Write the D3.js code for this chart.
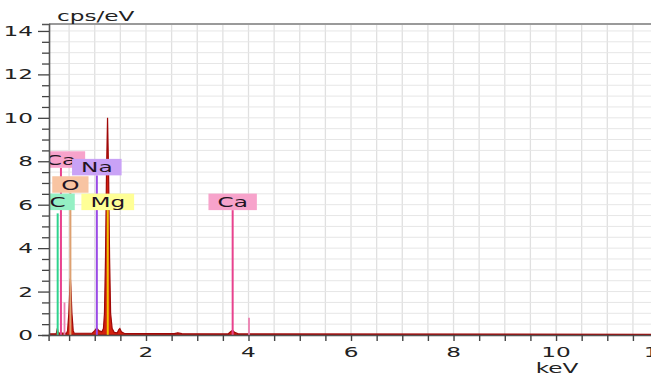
<!DOCTYPE html>
<html><head><meta charset="utf-8">
<script src="https://cdn.jsdelivr.net/npm/d3@7"></script>
<style>body{margin:0;background:#fff}svg{display:block}text{font-family:"DejaVu Sans",sans-serif}</style>
</head><body><svg id="c" width="651" height="378"></svg>
<script>
// ---- data ----
const xTickLabels = [2, 4, 6, 8, 10, 12];
const yTickLabels = [0, 2, 4, 6, 8, 10, 12, 14];
const specEnergy = [0.10,0.25,0.27,0.29,0.45,0.47,0.495,0.515,0.525,0.535,0.555,0.58,0.60,0.95,1.00,1.04,1.08,1.14,1.17,1.19,1.21,1.23,1.25,1.27,1.29,1.31,1.34,1.38,1.44,1.47,1.49,1.52,1.58,2.55,2.62,2.70,3.60,3.65,3.69,3.73,3.80,12.5];
const specCounts = [0.05,0.06,0.3,0.1,0.08,0.2,1.0,2.2,2.6,2.2,1.0,0.2,0.08,0.08,0.2,0.32,0.2,0.15,0.3,1.0,3.5,7.5,10.0,7.5,3.5,1.0,0.3,0.12,0.1,0.25,0.3,0.15,0.07,0.06,0.1,0.06,0.05,0.15,0.22,0.12,0.05,0.03];
const elemNames  = ["C","Ca","O","Na","Mg","Ca"];
const elemEnergy = [0.277,0.341,0.525,1.041,1.254,3.691];
const elemLabelLevel = [5.75,7.7,6.55,7.35,5.75,5.75];
const elemLineTop = [5.6,7.7,6.55,7.35,5.75,5.75];
const elemLineColor = ["#2fd38e","#e8428e","#dda070","#9a4ae6","#f2c200","#e8428e"];
const elemBoxColor  = ["#95f0c4","#f7a3cb","#f8c4a2","#c9a2f6","#ffff96","#f7a3cb"];
const minorEnergy = [0.41, 4.01];
const minorCounts = [1.5, 0.8];

// ---- layout ----
const svg = d3.select("#c");
const L = 49, T = 24, B = 335;
const x = d3.scaleLinear().domain([0.1, 12.2]).range([48.6, 668.8]);
const y = d3.scaleLinear().domain([0, 14.32]).range([B, T]);
const SX = 1.6, FS = 14.5;
const R = 651;

const defs = svg.append("defs");
defs.append("clipPath").attr("id","plot").append("rect").attr("x",L).attr("y",T).attr("width",R-L+20).attr("height",B-T);

// grid
const g = svg.append("g");
g.selectAll(".vg").data(d3.range(0.5, 12.01, 0.5)).join("line")
  .attr("x1",d=>x(d)).attr("x2",d=>x(d)).attr("y1",T).attr("y2",B)
  .attr("stroke","#e0e0e0").attr("stroke-width",1.3);
g.selectAll(".hg").data(d3.range(0.5, 14.01, 0.5)).join("line")
  .attr("x1",L).attr("x2",R).attr("y1",d=>y(d)).attr("y2",d=>y(d))
  .attr("stroke","#e6e6e6").attr("stroke-width",1);
svg.append("line").attr("x1",L).attr("x2",R).attr("y1",T).attr("y2",T).attr("stroke","#9a9a9a").attr("stroke-width",2);

const plot = svg.append("g").attr("clip-path","url(#plot)");

// spectrum
const spec = specEnergy.map((e,i)=>[e,specCounts[i]]);
plot.append("path").datum(spec)
  .attr("d", d3.area().x(d=>x(d[0])).y0(B).y1(d=>y(d[1])))
  .attr("fill","#d2200e").attr("stroke","#a00808").attr("stroke-width",1.2);

// minor lines
plot.selectAll(".ml").data(minorEnergy).join("line")
  .attr("x1",d=>x(d)).attr("x2",d=>x(d)).attr("y1",B).attr("y2",(d,i)=>y(minorCounts[i]))
  .attr("stroke","#ec7fb0").attr("stroke-width",1.8);

// element marker lines
plot.selectAll(".el").data(elemEnergy).join("line")
  .attr("x1",d=>x(d)).attr("x2",d=>x(d)).attr("y1",B).attr("y2",(d,i)=>y(elemLineTop[i]))
  .attr("stroke",(d,i)=>elemLineColor[i]).attr("stroke-width",2);

// labels
const order = [1,3,2,0,4,5];
order.forEach(i=>{
  const cx = x(elemEnergy[i]), yb = y(elemLabelLevel[i]);
  const lg = plot.append("g");
  const r = lg.append("rect");
  const tg = lg.append("g").attr("transform",`translate(${cx},${yb-3}) scale(${SX},1)`);
  const t = tg.append("text").attr("text-anchor","middle").attr("font-size",FS).attr("fill","#231423").text(elemNames[i]);
  const w = t.node().getComputedTextLength()*SX + 18;
  r.attr("x",cx-w/2).attr("y",yb-16.5).attr("width",w).attr("height",16.5).attr("fill",elemBoxColor[i]);
});

// axes
const ax = svg.append("g").attr("transform",`translate(0,${B})`)
  .call(d3.axisBottom(x).tickValues(d3.range(0.5,12.01,0.5)).tickSize(6).tickFormat(""));
ax.select(".domain").attr("stroke","#555").attr("stroke-width",1.6);
ax.selectAll(".tick line").attr("stroke","#444").attr("stroke-width",1.4);
const ay = svg.append("g").attr("transform",`translate(${L},0)`)
  .call(d3.axisLeft(y).tickValues(d3.range(0,14.01,0.5)).tickSize(7).tickFormat(""));
ay.select(".domain").attr("stroke","#555").attr("stroke-width",1.6);
ay.selectAll(".tick line").attr("stroke","#444").attr("stroke-width",1.3)
  .attr("x2",d=>Number.isInteger(d/2)?-11:-7);

// tick labels
xTickLabels.forEach(v=>{
  svg.append("g").attr("transform",`translate(${x(v)},${B+22}) scale(${SX},1)`)
    .append("text").attr("text-anchor","middle").attr("font-size",FS).attr("fill","#222").text(v);
});
yTickLabels.forEach(v=>{
  svg.append("g").attr("transform",`translate(${L-16},${y(v)+5}) scale(${SX},1)`)
    .append("text").attr("text-anchor","end").attr("font-size",FS).attr("fill","#222").text(v);
});
svg.append("g").attr("transform",`translate(57,21) scale(${SX},1)`)
  .append("text").attr("font-size",FS).attr("fill","#222").text("cps/eV");
svg.append("g").attr("transform",`translate(557,373) scale(${SX},1)`)
  .append("text").attr("text-anchor","middle").attr("font-size",FS).attr("fill","#222").text("keV");
</script></body></html>
